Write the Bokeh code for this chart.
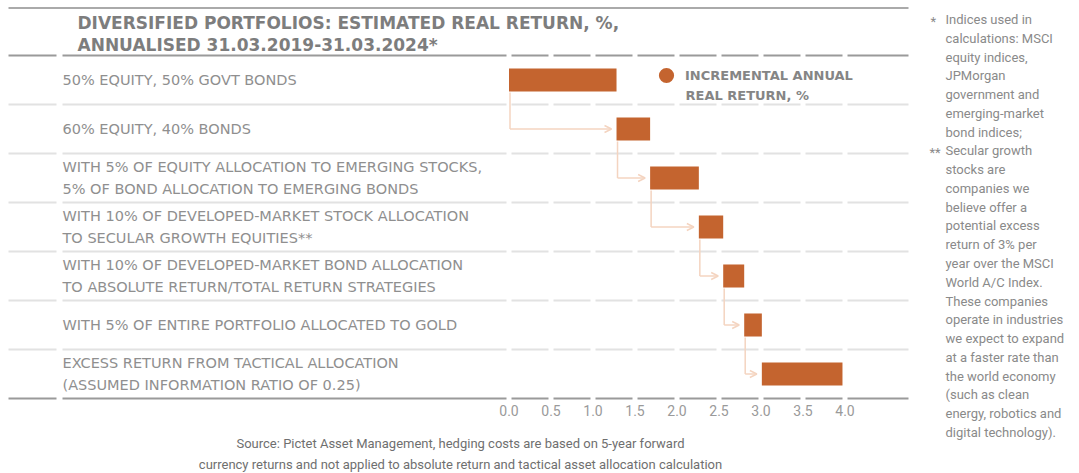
from bokeh.plotting import figure
from bokeh.models import (Range1d, FixedTicker, NumeralTickFormatter, Label, Legend,
                          LegendItem, ColumnDataSource, Arrow, OpenHead)
from bokeh.core.properties import value
from bokeh.embed import file_html
from bokeh.resources import INLINE

# ---------------- data ----------------
categories = [
    "50% EQUITY, 50% GOVT BONDS",
    "60% EQUITY, 40% BONDS",
    "WITH 5% OF EQUITY ALLOCATION TO EMERGING STOCKS,\n5% OF BOND ALLOCATION TO EMERGING BONDS",
    "WITH 10% OF DEVELOPED-MARKET STOCK ALLOCATION\nTO SECULAR GROWTH EQUITIES**",
    "WITH 10% OF DEVELOPED-MARKET BOND ALLOCATION\nTO ABSOLUTE RETURN/TOTAL RETURN STRATEGIES",
    "WITH 5% OF ENTIRE PORTFOLIO ALLOCATED TO GOLD",
    "EXCESS RETURN FROM TACTICAL ALLOCATION\n(ASSUMED INFORMATION RATIO OF 0.25)",
]
increments = [1.28, 0.40, 0.58, 0.29, 0.25, 0.21, 0.96]
x_ticks = [0.0, 0.5, 1.0, 1.5, 2.0, 2.5, 3.0, 3.5, 4.0]

title_lines = [
    "DIVERSIFIED PORTFOLIOS: ESTIMATED REAL RETURN, %,",
    "ANNUALISED 31.03.2019-31.03.2024*",
]
legend_lines = ["INCREMENTAL ANNUAL", "REAL RETURN, %"]
footnote_star = [
    "Indices used in", "calculations: MSCI", "equity indices,", "JPMorgan",
    "government and", "emerging-market", "bond indices;",
]
footnote_dstar = [
    "Secular growth", "stocks are", "companies we", "believe offer a",
    "potential excess", "return of 3% per", "year over the MSCI", "World A/C Index.",
    "These companies", "operate in industries", "we expect to expand",
    "at a faster rate than", "the world economy", "(such as clean",
    "energy, robotics and", "digital technology).",
]
source_lines = [
    "Source: Pictet Asset Management, hedging costs are based on 5-year forward",
    "currency returns and not applied to absolute return and tactical asset allocation calculation",
]

# ---------------- derived ----------------
starts, ends = [], []
acc = 0.0
for v in increments:
    starts.append(acc)
    acc += v
    ends.append(acc)
n = len(categories)
row_y = [n - 0.5 - i for i in range(n)]

# page-pixel helpers (layout only)
W, H = 1079, 473
X0, PXU, ROWPX, YB = 508.5, 84.0, 49.0, 398.0
def px(xpage):
    return (xpage - X0) / PXU
def py(ypage):
    return (YB - ypage) / ROWPX
def dx(pixels):
    return pixels / PXU
def dy(pixels):
    return pixels / ROWPX

BAR = "#C4642F"
PEACH = "#F4D4C0"

p = figure(width=W, height=H,
           x_range=Range1d(px(0), px(W)), y_range=Range1d(py(H), py(0)),
           output_backend="svg", toolbar_location=None,
           min_border_left=0, min_border_right=0, min_border_top=0, min_border_bottom=0,
           y_axis_location=None, outline_line_color=None)
p.grid.visible = False

# ---------------- separators ----------------
def sep_segments(yv):
    segs = [(px(8), px(56)), (px(62), px(506))]
    g = dx(2.5)
    for a, b in zip(x_ticks[:-1], x_ticks[1:]):
        segs.append((a + g, b - g))
    segs.append((x_ticks[-1] + g, px(908)))
    return [(s[0], s[1], yv) for s in segs]

dark, light = [], []
for k in range(n + 1):
    yv = float(k)
    (dark if k in (0, n) else light).extend(sep_segments(yv))

for segs, col, w in ((light, "#E2E2E2", 2), (dark, "#9A9A9A", 2)):
    p.segment(x0=[s[0] for s in segs], x1=[s[1] for s in segs],
              y0=[s[2] for s in segs], y1=[s[2] for s in segs],
              line_color=col, line_width=w)
# top rule above title
p.segment(x0=[px(8)], x1=[px(908)], y0=[py(7.5)], y1=[py(7.5)],
          line_color="#8E8E8E", line_width=1.5)

# ---------------- category labels ----------------
p.text(x=[px(62)] * n, y=row_y, text=categories,
       text_font=value("DejaVu Sans"), text_font_size="14.5px", text_color="#8F8F8F",
       text_baseline="middle", text_align="left", text_line_height=1.32)

# ---------------- connectors ----------------
bh = 0.47
vx = [starts[i] + dx(1) for i in range(n - 1)]
p.segment(x0=vx, x1=vx,
          y0=[row_y[i] - bh / 2 - dy(1) for i in range(n - 1)],
          y1=[row_y[i + 1] for i in range(n - 1)],
          line_color=PEACH, line_width=1.5)
asrc = ColumnDataSource(dict(
    xs=vx,
    xe=[starts[i + 1] - dx(5) for i in range(n - 1)],
    y=[row_y[i + 1] for i in range(n - 1)],
))
p.add_layout(Arrow(end=OpenHead(size=7, line_color=PEACH, line_width=1.5),
                   x_start="xs", y_start="y", x_end="xe", y_end="y", source=asrc,
                   line_color=PEACH, line_width=1.5))

# ---------------- bars ----------------
p.hbar(y=row_y, left=starts, right=ends, height=bh, fill_color=BAR, line_color=None)

# ---------------- axis (pinned to the base of the rows) ----------------
ax = p.xaxis[0]
ax.fixed_location = 0
ax.ticker = FixedTicker(ticks=x_ticks)
ax.formatter = NumeralTickFormatter(format="0.0")
ax.axis_line_color = None
ax.major_tick_line_color = None
ax.minor_tick_line_color = None
ax.major_tick_out = 0
ax.major_tick_in = 0
ax.minor_tick_out = 0
ax.major_label_standoff = 6
ax.major_label_text_font = "Roboto"
ax.major_label_text_font_size = "14px"
ax.major_label_text_color = "#9A9A9A"

# ---------------- legend ----------------
dummy = p.scatter(x=[float("nan")], y=[float("nan")], marker="circle", size=15,
                  fill_color=BAR, line_color=None)
leg = Legend(items=[LegendItem(label=legend_lines[0], renderers=[dummy])],
             location=(647, H - 94), orientation="vertical",
             glyph_width=38, glyph_height=38, label_standoff=0,
             padding=0, margin=0, spacing=0, border_line_color=None,
             background_fill_alpha=0, label_text_font="DejaVu Sans",
             label_text_font_style="bold", label_text_font_size="13px",
             label_text_color="#858585")
p.add_layout(leg)

def lab(text, xpage, ypage, **kw):
    opts = dict(x_units="screen", y_units="screen", text_baseline="middle")
    opts.update(kw)
    p.add_layout(Label(x=xpage, y=H - ypage, text=text, **opts))

lab(legend_lines[1], 685, 95, text_font="DejaVu Sans", text_font_style="bold",
    text_font_size="13px", text_color="#858585")

# ---------------- title ----------------
for t, yc in zip(title_lines, (22, 44)):
    lab(t, 77, yc, text_font="DejaVu Sans",
        text_font_style="bold", text_font_size="17px", text_color="#7D7D7D")

# ---------------- footnotes ----------------
fn_style = dict(text_font="Roboto", text_font_size="13px", text_color="#8A8A8A")
lines = footnote_star + footnote_dstar
for j, t in enumerate(lines):
    lab(t, 945, 19 + j * 18.77, **fn_style)
lab("*", 930, 21, **fn_style)
lab("**", 929, 19 + len(footnote_star) * 18.77 + 2, **fn_style)

# ---------------- source ----------------
for t, yc in zip(source_lines, (443, 464)):
    lab(t, 460, yc, text_align="center", text_font="Roboto", text_font_size="13px",
        text_color="#6F6F6F")

open("out.html", "w").write(file_html(p, INLINE))
